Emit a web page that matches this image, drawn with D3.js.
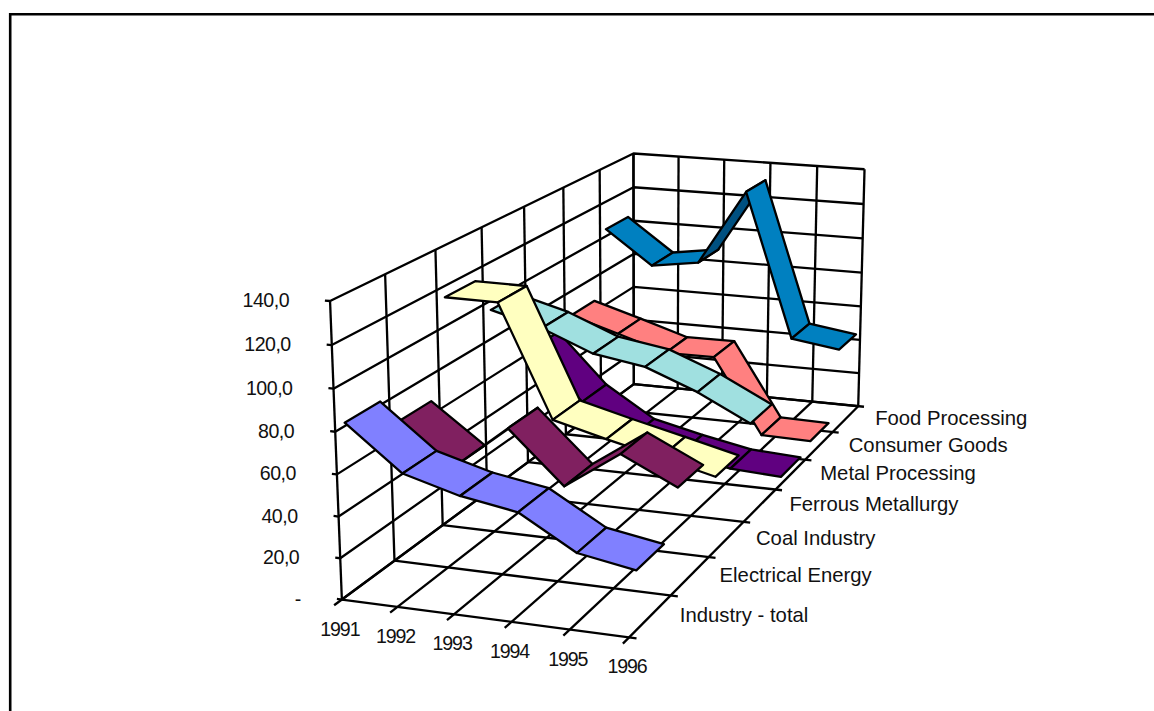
<!DOCTYPE html>
<html><head><meta charset="utf-8"><script src="https://cdn.jsdelivr.net/npm/d3@7"></script>
<style>
body{margin:0;background:#fff}
text{font-family:"Liberation Sans",Arial,sans-serif;fill:#111}
.val{font-size:19.6px;letter-spacing:-.5px}
.yr{font-size:19.6px;letter-spacing:-1.1px}
.ser{font-size:20.3px}
</style></head><body><svg id="chart" width="1154" height="711"></svg>
<script>
const years = ['1991','1992','1993','1994','1995','1996']
const seriesNames = ['Industry - total','Electrical Energy','Coal Industry','Ferrous Metallurgy','Metal Processing','Consumer Goods','Food Processing']
const industryTotal = [81.6,60.6,53.1,48.6,32.8,28.1]
const electricalEnergy = [66.8,47.2,69.0,43.7,62.4,49.3]
const coalIndustry = [114.4,114.2,57.7,50.8,44.4,37.7]
const ferrousMetallurgy = [95.2,88.0,77.2,72.9,62.4,48.8]
const metalProcessing = [61.3,34.1,17.2,11.0,5.6,4.1]
const consumerGoods = [66.3,58.3,49.9,50.1,8.4,7.8]
const foodProcessing = [104.1,85.0,89.0,131.6,49.5,45.6]
const yTicks = [0,20,40,60,80,100,120,140]
const yTickLabels = ['-','20,0','40,0','60,0','80,0','100,0','120,0','140,0']
const colors = ['#8080ff','#802060','#ffffc0','#a0e0e0','#600080','#ff8080','#0080c0']
const undersides = ['#5050a0','#801f60','#a0a078','#709c9c','#600080','#b05858','#005080']
const allSeries = [industryTotal,electricalEnergy,coalIndustry,ferrousMetallurgy,metalProcessing,consumerGoods,foodProcessing]

// cube corners on screen: year, depth, height, px, py
const corners = [[0,0,0,341,598],[1,0,0,630,638],[1,1,0,858,406],[0,1,0,634,385],[0,0,1,330,302],[0,1,1,634,153],[1,1,1,864,169]]
const ribbonWidth = 0.66

// least squares fit of the projection through the corners
function fitCamera() {
    const A = [], b = []
    corners.forEach(([u,v,w,x,y]) => {
        x /= 1000; y /= 1000
        A.push([u,v,w,1,0,0,0,0,-x*u,-x*v,-x*w]); b.push(x)
        A.push([0,0,0,0,u,v,w,1,-y*u,-y*v,-y*w]); b.push(y)
    })
    const n = 11
    const M = d3.range(n).map(i => d3.range(n+1).map(j => d3.sum(A, (r,k) => r[i] * (j < n ? r[j] : b[k]))))
    for (let i=0;i<n;i++) {
        let m = i
        for (let r=i;r<n;r++) if (Math.abs(M[r][i]) > Math.abs(M[m][i])) m = r
        ;[M[i],M[m]] = [M[m],M[i]]
        for (let r=0;r<n;r++) if (r != i) {
            const f = M[r][i] / M[i][i]
            for (let j=i;j<=n;j++) M[r][j] -= f * M[i][j]
        }
    }
    return M.map((r,i) => r[n] / r[i])
}
const cam = fitCamera()
function project(u,v,w) {
    const d = cam[8]*u + cam[9]*v + cam[10]*w + 1
    return [1000*(cam[0]*u + cam[1]*v + cam[2]*w + cam[3])/d, 1000*(cam[4]*u + cam[5]*v + cam[6]*w + cam[7])/d]
}

const xScale = d3.scalePoint().domain(years).range([0,1])
const depth = d3.scaleBand().domain(seriesNames).range([0,1])
const yScale = d3.scaleLinear().domain([0,140]).range([0,1])
const line = d3.line()

const svg = d3.select('#chart')
svg.append('path').attr('d','M10.2,711V14.2H1154').attr('fill','none').attr('stroke','#000').attr('stroke-width',2.6)

const gridLines = []
const bandEdges = d3.range(seriesNames.length+1).map(i => i / seriesNames.length)
years.forEach(y => {
    const u = xScale(y)
    gridLines.push([[u,-0.02,0],[u,1,0]])     // floor, with tick in front
    gridLines.push([[u,1,0],[u,1,1]])         // back wall
})
bandEdges.forEach(v => {
    gridLines.push([[0,v,0],[1.025,v,0]])     // floor, with tick at right
    gridLines.push([[0,v,0],[0,v,1]])         // side wall
})
yTicks.forEach(t => {
    const w = yScale(t)
    gridLines.push([[-0.018,0,w],[0,0,w],[0,1,w],[1,1,w]])
})
svg.append('g').selectAll('path').data(gridLines).join('path')
    .attr('d', d => line(d.map(p => project(...p))))
    .attr('fill','none').attr('stroke','#000').attr('stroke-width',2.3).attr('stroke-linejoin','round')

// ribbons back to front
const ribbons = svg.append('g')
d3.range(allSeries.length-1,-1,-1).forEach(k => {
    const name = seriesNames[k], vals = allSeries[k]
    const mid = depth(name) + depth.bandwidth()/2, half = depth.bandwidth()*ribbonWidth/2
    d3.range(vals.length-1).forEach(i => {
        const u0 = xScale(years[i]), u1 = xScale(years[i+1]), w0 = yScale(vals[i]), w1 = yScale(vals[i+1])
        const quad = [project(u0,mid-half,w0),project(u1,mid-half,w1),project(u1,mid+half,w1),project(u0,mid+half,w0)]
        ribbons.append('path')
            .attr('d', line(quad) + 'Z')
            .attr('fill', d3.polygonArea(quad) < 0 ? undersides[k] : colors[k])
            .attr('stroke','#000').attr('stroke-width',2.3).attr('stroke-linejoin','round')
    })
})

// axis labels
svg.append('g').selectAll('text').data(yTicks).join('text')
    .attr('class','val')
    .attr('x', t => project(0,0,yScale(t))[0] - 41)
    .attr('y', t => project(0,0,yScale(t))[1] - 1)
    .attr('text-anchor','end').attr('dominant-baseline','central')
    .text((t,i) => yTickLabels[i])
svg.append('g').selectAll('text').data(years).join('text')
    .attr('class','yr')
    .attr('x', y => project(xScale(y),0,0)[0] - 2)
    .attr('y', y => project(xScale(y),0,0)[1] + 29)
    .attr('text-anchor','middle').attr('dominant-baseline','central')
    .text(y => y)
svg.append('g').selectAll('text').data(seriesNames).join('text')
    .attr('class','ser')
    .attr('x', s => project(1,depth(s)+depth.bandwidth()/2,0)[0] + 29.5)
    .attr('y', s => project(1,depth(s)+depth.bandwidth()/2,0)[1] - 1)
    .attr('dominant-baseline','central')
    .text(s => s)
</script></body></html>
